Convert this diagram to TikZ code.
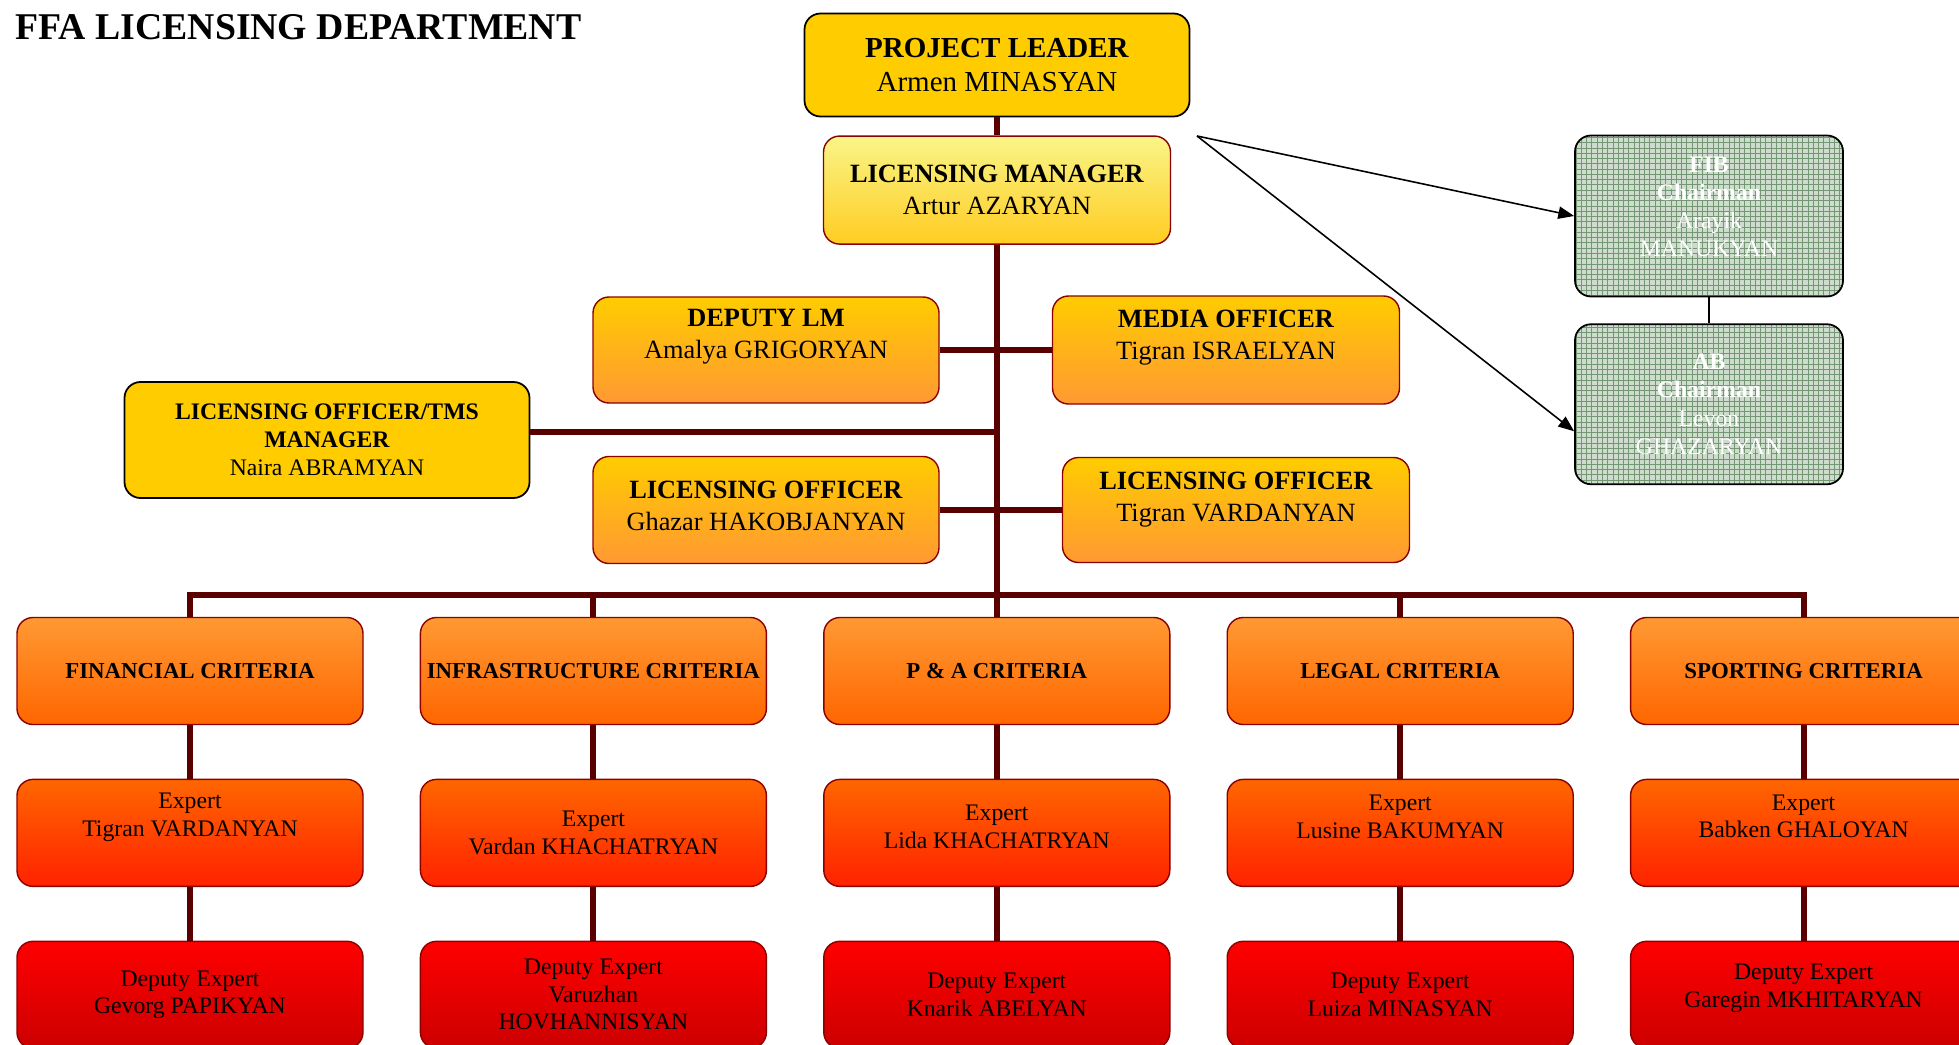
\documentclass[tikz,border=0pt]{standalone}
\usepackage{fontspec}
\setmainfont{Liberation Serif}
\usetikzlibrary{positioning,arrows.meta,patterns}
\def \tu {0.02cm}
\definecolor{gold}{HTML}{FFCC00}
\definecolor{lmtop}{HTML}{F9F588}
\definecolor{lmbot}{HTML}{FFCC22}
\definecolor{ofbot}{HTML}{FF9933}
\definecolor{crbot}{HTML}{FF6600}
\definecolor{exbot}{HTML}{FF2200}
\definecolor{dpbot}{HTML}{CC0000}
\definecolor{boxred}{HTML}{8B0000}
\definecolor{trunkred}{HTML}{5A0000}
\definecolor{boardbg}{RGB}{206,220,206}
\definecolor{boardln}{RGB}{115,150,115}
\tikzset{
  box/.style={draw=boxred, line width=0.8pt, rounded corners=0.32cm, align=center,
    inner sep=0pt, minimum width=346*\tu, minimum height=107*\tu},
  goldbox/.style={box, draw=black, line width=1pt, fill=gold},
  lmbox/.style={box, top color=lmtop, bottom color=lmbot, font=\fontsize{15}{18}\selectfont},
  offbox/.style={box, top color=gold, bottom color=ofbot, font=\fontsize{15}{18}\selectfont},
  critbox/.style={box, top color=ofbot, bottom color=crbot, font=\bfseries\fontsize{13}{15.6}\selectfont},
  expbox/.style={box, top color=crbot, bottom color=exbot, font=\fontsize{13.5}{15.6}\selectfont},
  depbox/.style={box, top color=red, bottom color=dpbot, font=\fontsize{13.5}{15.6}\selectfont},
  board/.style={box, draw=black, line width=1pt, preaction={fill=boardbg}, pattern=grid,
    pattern color=boardln, text=white, minimum width=268*\tu, minimum height=160*\tu,
    font=\fontsize{13.5}{16}\selectfont},
  trunk/.style={draw=trunkred, line width=3.4pt},
  arr/.style={-{Triangle[length=9pt,width=7pt]}, line width=0.9pt}
}
\begin{document}
\begin{tikzpicture}[x=\tu,y=-\tu,node distance=1.07cm and 1.12cm]
  \useasboundingbox (0,0) rectangle (1959,1044);
  \node[anchor=west, inner sep=0pt, font=\bfseries\fontsize{21.5}{25}\selectfont] (ttl) at (15,27) {FFA LICENSING DEPARTMENT};

  % top of the chart
  \node[goldbox, minimum width=385*\tu, minimum height=103*\tu, font=\fontsize{16.5}{19.2}\selectfont] (pl) at (997,65) {\textbf{PROJECT LEADER}\\Armen MINASYAN};
  \node[lmbox, below=0.36cm of pl, minimum width=347*\tu, minimum height=108*\tu] (lm) {\textbf{LICENSING MANAGER}\\Artur AZARYAN};
  \node[offbox, minimum height=106*\tu] (dlm) at (766,350) {\textbf{DEPUTY LM}\\Amalya GRIGORYAN\\[0.2pt]};
  \node[offbox, minimum width=347*\tu, minimum height=108*\tu] (media) at (1226,350) {\textbf{MEDIA OFFICER}\\Tigran ISRAELYAN\\[-0.9pt]};
  \node[goldbox, minimum width=405*\tu, minimum height=116*\tu, font=\fontsize{13.5}{16}\selectfont] (tms) at (327,440) {\textbf{LICENSING OFFICER/TMS}\\\textbf{MANAGER}\\Naira ABRAMYAN};
  \node[offbox] (log) at (766,510) {\textbf{LICENSING OFFICER}\\Ghazar HAKOBJANYAN\\[-13.4pt]};
  \node[offbox, minimum width=347*\tu, minimum height=105*\tu] (lot) at (1236,510) {\textbf{LICENSING OFFICER}\\Tigran VARDANYAN\\[-3.2pt]};

  % boards
  \node[board, minimum height=161*\tu] (fib) at (1709,216) {\textbf{FIB}\\\textbf{Chairman}\\Arayik\\MANUKYAN\\[-5.8pt]};
  \node[board, below=0.52cm of fib] (ab) {\textbf{AB}\\\textbf{Chairman}\\Levon\\GHAZARYAN};

  % criteria
  \node[critbox] (fin) at (190,671) {FINANCIAL CRITERIA};
  \node[critbox, right=of fin] (inf) {INFRASTRUCTURE CRITERIA};
  \node[critbox, right=of inf] (pa) {P \& A CRITERIA};
  \node[critbox, right=of pa] (leg) {LEGAL CRITERIA};
  \node[critbox, right=of leg] (spo) {SPORTING CRITERIA};

  \node[expbox, below=of fin] (fin-x) {Expert\\Tigran VARDANYAN\\[4.9pt]};
  \node[expbox, below=of inf] (inf-x) {Expert\\Vardan KHACHATRYAN};
  \node[expbox, below=of pa] (pa-x) {Expert\\Lida KHACHATRYAN\\[-8.8pt]};
  \node[expbox, below=of leg] (leg-x) {Expert\\Lusine BAKUMYAN\\[2.6pt]};
  \node[expbox, below=of spo] (spo-x) {Expert\\Babken GHALOYAN\\[3.7pt]};

  \node[depbox, below=of fin-x] (fin-d) {Deputy Expert\\Gevorg PAPIKYAN};
  \node[depbox, below=of inf-x] (inf-d) {Deputy Expert\\Varuzhan\\HOVHANNISYAN};
  \node[depbox, below=of pa-x] (pa-d) {Deputy Expert\\Knarik ABELYAN};
  \node[depbox, below=of leg-x] (leg-d) {Deputy Expert\\Luiza MINASYAN};
  \node[depbox, below=of spo-x] (spo-d) {Deputy Expert\\Garegin MKHITARYAN\\[-5.4pt]};

  % lines
  \coordinate (bus) at (997,595);
  \coordinate (src) at (1197,136);
  \draw[trunk] (pl) -- (lm);
  \draw[trunk] (lm) -- (lm |- bus);
  \draw[trunk] (dlm) -- (media);
  \draw[trunk] (log) -- (lot);
  \draw[trunk] ([yshift=8*\tu]tms.east) -- ([yshift=8*\tu]tms.east -| lm);
  \draw[trunk] (fin) |- (bus) -| (spo);
  \foreach \n in {inf,pa,leg}
    \draw[trunk] (\n) -- (\n |- bus);
  \foreach \n in {fin,inf,pa,leg,spo}
    \draw[trunk] (\n) -- (\n-x) -- (\n-d);
  \draw[arr] (src) -- (fib.west);
  \draw[arr] (src) -- ([yshift=-27*\tu]ab.west);
  \draw[line width=0.9pt] (fib) -- (ab);
\end{tikzpicture}
\end{document}
